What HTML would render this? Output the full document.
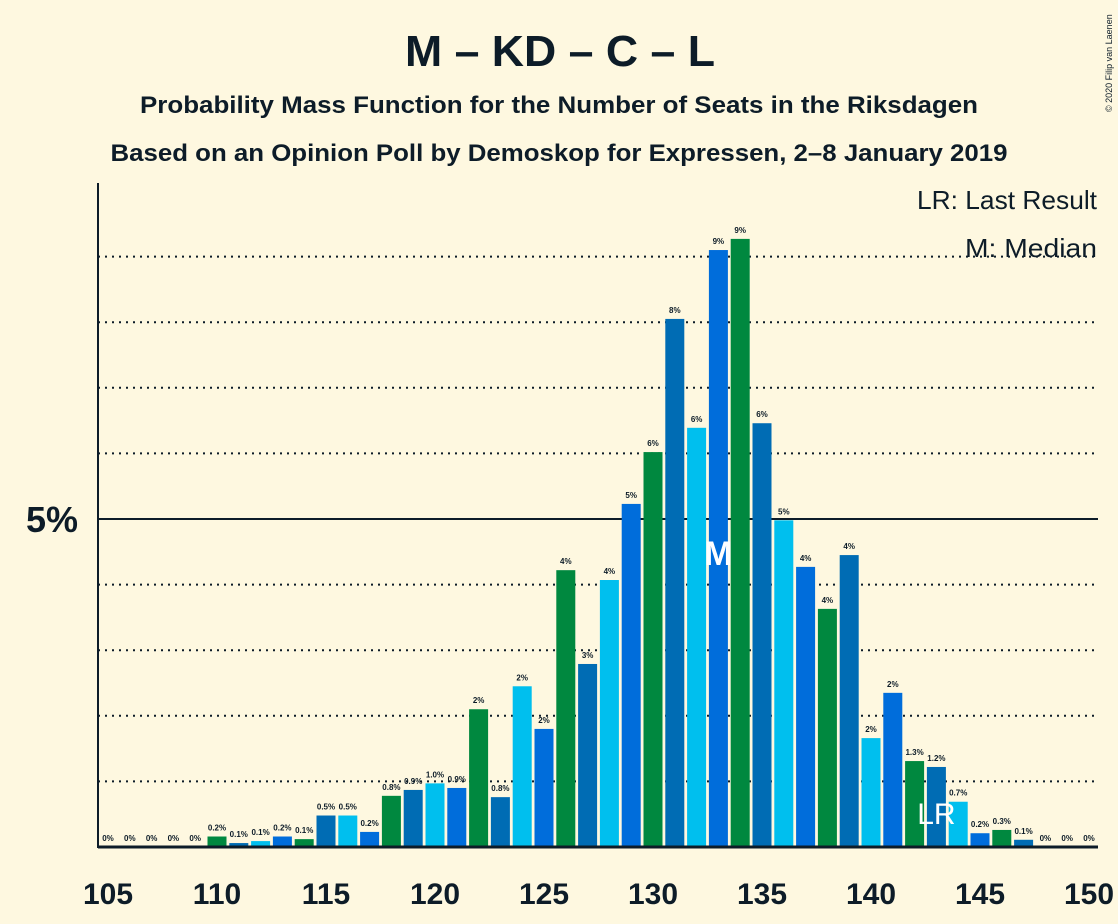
<!DOCTYPE html>
<html><head><meta charset="utf-8"><style>
html,body{margin:0;padding:0;background:#fef8e0;}
svg{display:block;font-family:"Liberation Sans",sans-serif;}
</style></head><body>
<svg id="chart" width="1118" height="924" viewBox="0 0 1118 924">
<rect width="1118" height="924" fill="#fef8e0"/>
<text x="560" y="66" text-anchor="middle" font-size="44" font-weight="bold" fill="#0d1c28" textLength="310" lengthAdjust="spacingAndGlyphs">M – KD – C – L</text>
<text x="559" y="113" text-anchor="middle" font-size="24" font-weight="bold" fill="#0d1c28" textLength="838" lengthAdjust="spacingAndGlyphs">Probability Mass Function for the Number of Seats in the Riksdagen</text>
<text x="559" y="161" text-anchor="middle" font-size="24" font-weight="bold" fill="#0d1c28" textLength="897" lengthAdjust="spacingAndGlyphs">Based on an Opinion Poll by Demoskop for Expressen, 2–8 January 2019</text>
<text transform="translate(1112,112) rotate(-90)" font-size="9" fill="#0d1c28">© 2020 Filip van Laenen</text>
<g id="grid"></g>
<g id="bars"></g>
<g id="labels"></g>
<line x1="98" y1="183" x2="98" y2="848" stroke="#0d1c28" stroke-width="2"/>
<line x1="98" y1="847" x2="1098" y2="847" stroke="#0d1c28" stroke-width="3"/>
<text x="78" y="532" text-anchor="end" font-size="36" font-weight="bold" fill="#0d1c28">5%</text>
<text x="1097" y="209" text-anchor="end" font-size="26" fill="#0d1c28" textLength="180" lengthAdjust="spacingAndGlyphs">LR: Last Result</text>
<text x="1097" y="257" text-anchor="end" font-size="26" fill="#0d1c28" textLength="132" lengthAdjust="spacingAndGlyphs">M: Median</text>
</svg>
<script>
const seats = [105,106,107,108,109,110,111,112,113,114,115,116,117,118,119,120,121,122,123,124,125,126,127,128,129,130,131,132,133,134,135,136,137,138,139,140,141,142,143,144,145,146,147,148,149,150];
const probs = [0,0,0,0,0,0.16,0.06,0.09,0.16,0.12,0.48,0.48,0.23,0.78,0.87,0.97,0.9,2.1,0.76,2.45,1.8,4.22,2.79,4.07,5.23,6.02,8.05,6.39,9.1,9.27,6.46,4.98,4.27,3.63,4.45,1.66,2.35,1.31,1.22,0.69,0.21,0.26,0.11,0,0,0];
const xTicks = [105,110,115,120,125,130,135,140,145,150];
const gridPcts = [1,2,3,4,5,6,7,8,9];
const medianSeat = 133;
const lastResultSeat = 143;
const colors = ["#00883f","#006cb4","#00bfee","#006ddb"];
const NS = "http://www.w3.org/2000/svg";
const xS = s => 108 + (s - 105) * 21.8;
const yS = p => 847 - p * 65.6;
const grid = document.getElementById('grid'), barsG = document.getElementById('bars'), labG = document.getElementById('labels'), svg = document.getElementById('chart');
function mk(tag, attrs, parent){const e=document.createElementNS(NS,tag);for(const k in attrs)e.setAttribute(k,attrs[k]);parent.appendChild(e);return e;}
gridPcts.forEach(p=>{
  const l = mk('line',{x1:98,x2:1098,y1:yS(p),y2:yS(p),stroke:'#0d1c28','stroke-width':2,'stroke-dasharray':p===5?'none':'2 5'},grid);
  
  
});
seats.forEach((s,i)=>{
  const p = probs[i];
  const col = colors[(((s-110)%4)+4)%4];
  if (p > 0) {
    const r = mk('rect',{x:xS(s)-9.5,y:yS(p),width:19,height:847-yS(p),fill:col},barsG);
    
    
  }
  const txt = p===0 ? '0%' : (p < 1.5 ? p.toFixed(1)+'%' : Math.round(p)+'%');
  const t = mk('text',{x:xS(s),y:yS(p)-6,'text-anchor':'middle','font-size':8,'font-weight':'bold',fill:'#0d1c28'},labG);
  t.textContent = txt;
  
  
});
xTicks.forEach(s=>{
  const t = mk('text',{x:xS(s),y:904,'text-anchor':'middle','font-size':30,'font-weight':'bold',fill:'#0d1c28'},svg);
  t.textContent = s;
  
  
});
const m = mk('text',{x:xS(medianSeat),y:565,'text-anchor':'middle','font-size':34,'font-weight':'bold',fill:'#ffffff'},svg);
m.textContent = 'M';


const lr = mk('text',{x:xS(lastResultSeat),y:824,'text-anchor':'middle','font-size':30,fill:'#ffffff'},svg);
lr.textContent = 'LR';


</script>
</body></html>
